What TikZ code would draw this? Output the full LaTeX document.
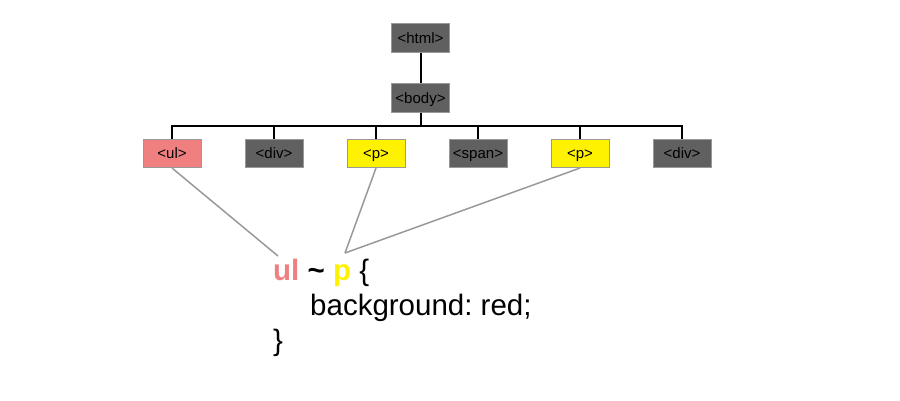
\documentclass[tikz,border=0pt]{standalone}
\usepackage{fontspec}
\setmainfont{Liberation Sans}
\frenchspacing
\definecolor{boxgray}{HTML}{606060}
\definecolor{coral}{HTML}{F08080}
\definecolor{linegray}{HTML}{999999}
\tikzset{
  tag/.style={draw=gray!80, line width=0.6pt, minimum width=58pt, minimum height=28.5pt, inner sep=0pt, text height=11pt, text depth=0.4pt, font=\fontsize{15}{17}\selectfont, text=black},
  darktag/.style={tag, fill=boxgray},
  ultag/.style={tag, fill=coral},
  ptag/.style={tag, fill=yellow},
  tree/.style={line width=2pt, black},
  hint/.style={line width=1.5pt, linegray},
  code/.style={inner sep=0pt, anchor=base west, font=\fontsize{29.5}{35}\selectfont}
}
\begin{document}
\begin{tikzpicture}[x=1pt,y=-1pt]
\useasboundingbox (0,0) rectangle (900,400);
\node[darktag] (html) at (420.5,38) {<html>};
\node[darktag] (body) at (420.5,98) {<body>};
\node[ultag] (ul) at (172,153.5) {<ul>};
\node[darktag] (div1) at (274,153.5) {<div>};
\node[ptag] (p1) at (376,153.5) {<p>};
\node[darktag] (span) at (478,153.5) {<span>};
\node[ptag] (p2) at (580,153.5) {<p>};
\node[darktag] (div2) at (682,153.5) {<div>};
\coordinate (bar) at (420.5,126);
\draw[tree] (html) -- (body);
\draw[tree] (body.south) -- (bar);
\draw[tree] (ul.north) |- (bar) -| (div2.north);
\foreach \n in {div1,p1,span,p2} \draw[tree] (\n.north) -- (\n.north |- bar);
% code text
\node[code] (l1) at (273,280) {\textbf{\textcolor{coral}{ul} \textasciitilde{} \textcolor{yellow}{p}} \{};
\node[code] (l2) at (310,315) {background: red;};
\node[code] (l3) at (273,350) {\}};
\coordinate (ulend) at (278,256);
\coordinate (pend) at (345,253);
\draw[hint] (ul.south) -- (ulend);
\draw[hint] (p1.south) -- (pend);
\draw[hint] (p2.south) -- (pend);
\end{tikzpicture}
\end{document}
